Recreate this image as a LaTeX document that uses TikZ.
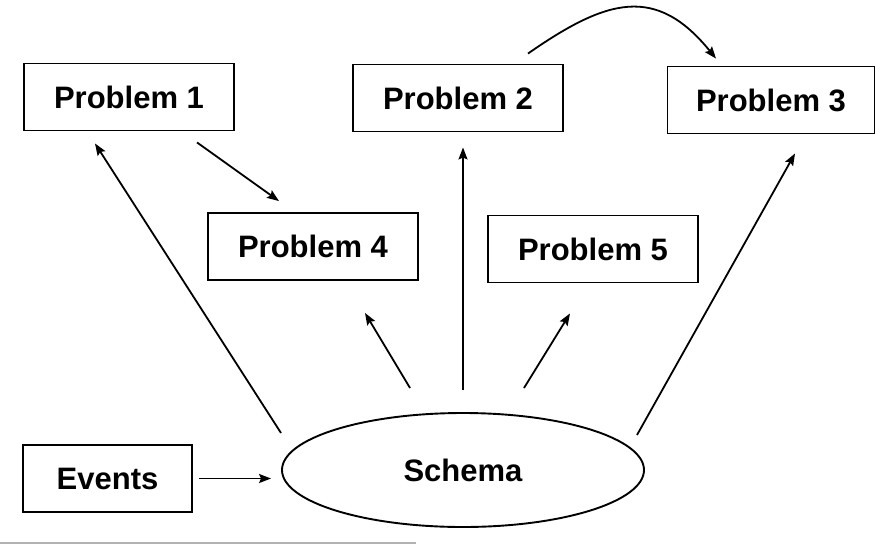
\documentclass[tikz,border=0pt]{standalone}
\usepackage{fontspec}
\setmainfont{Liberation Sans}
\usetikzlibrary{arrows.meta,shapes.geometric}

\begin{document}
\begin{tikzpicture}[x=1pt,y=-1pt,
    box/.style={shape=rectangle,draw=black,line width=1.9pt,inner sep=0pt,
        minimum width=210pt,minimum height=67pt,
        font=\fontsize{31}{36}\selectfont\bfseries},
    arr/.style={-{Stealth[length=12pt,width=9pt,inset=2pt]},line width=1.8pt}]
    \useasboundingbox (0,0) rectangle (875,544);

    \node[box] (P1) at (129,97) {Problem 1};
    \node[box] (P2) at (458,98) {Problem 2};
    \node[box,minimum width=207pt] (P3) at (771,100) {Problem 3};
    \node[box] (P4) at (313,246.5) {Problem 4};
    \node[box] (P5) at (593,249) {Problem 5};
    \node[box,minimum width=169pt] (E) at (107.5,478.5) {Events};
    \node[box,shape=ellipse,minimum width=362pt,minimum height=114pt] (S) at (463,470) {Schema};

    \path [arr] ([shift={(-182,-37)}]S.center) edge ([shift={(-34,12)}]P1.south);
    \path [arr] ([shift={(68,11)}]P1.south) edge ([shift={(-34,-11)}]P4.north);
    \path [arr] ([shift={(-53,-82)}]S.center) edge ([shift={(52,32)}]P4.south);
    \path [arr] ([shift={(0,-80)}]S.center) edge ([shift={(5,15)}]P2.south);
    \path [arr] ([shift={(61,-82)}]S.center) edge ([shift={(-23,30)}]P5.south);
    \path [arr] ([shift={(174,-35)}]S.center) edge ([shift={(24,19)}]P3.south);
    \draw [arr] ([shift={(70,-10)}]P2.north) .. controls +(79,-55) and +(-60,-74) .. ([shift={(-55,-7)}]P3.north);
    \path [arr,shorten <=6pt,shorten >=10pt] (E.east) edge (E.east -| S.west);

    % scan edge along the bottom
    \draw [gray!60,line width=1.5pt] (0,543) -- (416,543);

\end{tikzpicture}
\end{document}
